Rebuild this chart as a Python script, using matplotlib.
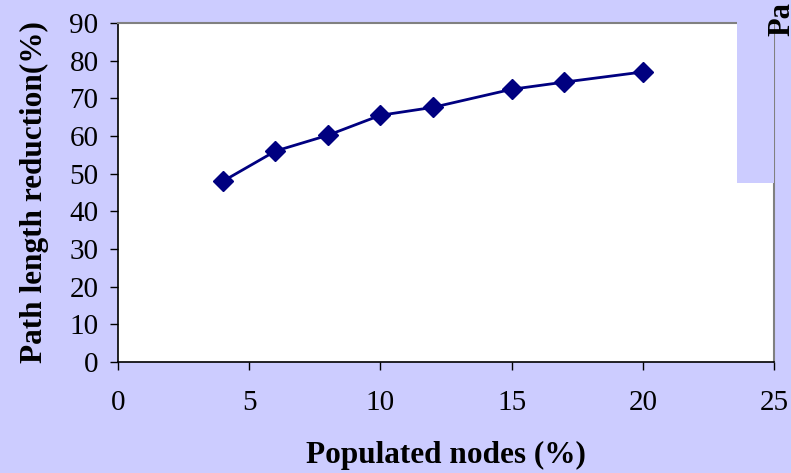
import matplotlib.pyplot as plt
from matplotlib.patches import Rectangle

populated = [4, 6, 8, 10, 12, 15, 17, 20]
reduction = [48, 56, 60.2, 65.5, 67.6, 72.4, 74.3, 77]
xticks = [0, 5, 10, 15, 20, 25]
yticks = [0, 10, 20, 30, 40, 50, 60, 70, 80, 90]

bg = '#CCCCFF'
navy = '#000080'
plt.rcParams['font.family'] = ['Liberation Serif', 'DejaVu Serif']

fig = plt.figure(figsize=(7.91, 4.73), dpi=100, facecolor=bg)
W, H = 791, 473
ax = fig.add_axes([118 / W, 1 - 362 / H, (774 - 118) / W, (362 - 23) / H])
ax.set_facecolor('white')

ax.plot(populated, reduction, color=navy, linewidth=2, marker='D',
        markersize=10, markerfacecolor=navy, markeredgecolor=navy)

ax.set_xlim(0, 25)
ax.set_ylim(0, 90)
ax.set_xticks(xticks)
ax.set_yticks(yticks)
ax.tick_params(axis='both', labelsize=21, length=6, width=1, color='black', direction='out')
ax.tick_params(axis='x', pad=14)
ax.tick_params(axis='y', pad=8)

for side in ['left', 'bottom']:
    ax.spines[side].set_color('black')
    ax.spines[side].set_linewidth(1.2)
for side in ['top', 'right']:
    ax.spines[side].set_color('#808080')
    ax.spines[side].set_linewidth(1.5)

ax.set_xlabel('Populated nodes (%)', fontsize=22.5, fontweight='bold', labelpad=18)
ax.set_ylabel('Path length reduction(%)', fontsize=22.5, fontweight='bold', labelpad=15)

# neighbouring chart panel overlapping the top right corner
fig.patches.append(Rectangle((737 / W, 1 - 183 / H), 37 / W, 183 / H,
                             transform=fig.transFigure, facecolor=bg,
                             edgecolor='none', zorder=5))
fig.text(782 / W, 1 - 2 / H, 'Pa', rotation=90, fontsize=22, fontweight='bold',
         ha='center', va='top', zorder=6)

fig.savefig('out.png', dpi=100, facecolor=bg)
